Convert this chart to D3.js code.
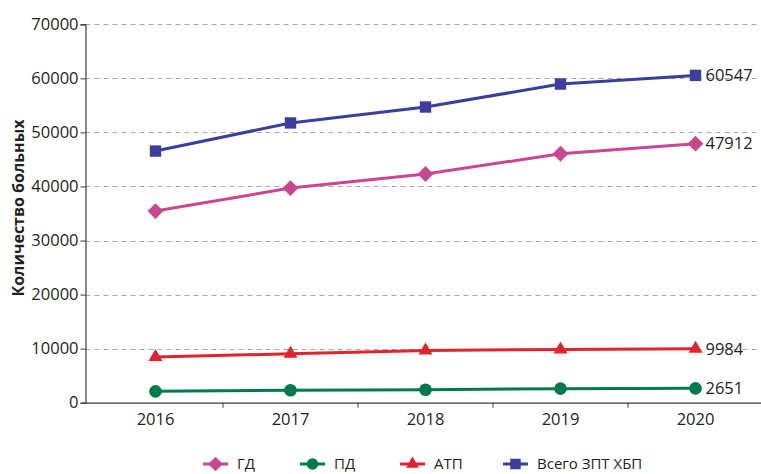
<!DOCTYPE html>
<html><head><meta charset="utf-8">
<script src="https://cdn.jsdelivr.net/npm/d3@7/dist/d3.min.js"></script>
<style>
body{margin:0;background:#fff;}
svg text{font-family:"Open Sans",sans-serif;}
</style></head>
<body><svg id="c" width="761" height="474"></svg>
<script>
const years = ["2016","2017","2018","2019","2020"];
const seriesNames = ["ГД","ПД","АТП","Всего ЗПТ ХБП"];
const gd    = [35450, 39700, 42300, 46050, 47912];
const pd    = [2100, 2300, 2400, 2600, 2651];
const atp   = [8450, 9050, 9650, 9850, 9984];
const total = [46550, 51750, 54700, 58950, 60547];
const yTicks = [0,10000,20000,30000,40000,50000,60000,70000];
const colors = ["#c8478f","#007a4b","#e0232c","#3b3e9b"];
const symbols = [d3.symbolDiamond2, d3.symbolCircle, d3.symbolTriangle2, d3.symbolSquare2];
const symSizes = [160, 125, 140, 165];

const data = [gd, pd, atp, total];
const svg = d3.select("#c");
const mLeft = 85.5, mTop = 24.3, mBottom = 402.7;

const x = d3.scaleBand().domain(years).range([88, 763]);
const y = d3.scaleLinear().domain([0,70000]).range([mBottom, mTop]);

// grid
svg.append("g").selectAll("line").data(yTicks.filter(d=>d>0)).join("line")
  .attr("x1", mLeft).attr("x2", 757)
  .attr("y1", d=>Math.round(y(d))+0.5).attr("y2", d=>Math.round(y(d))+0.5)
  .attr("stroke","#a8a8a8").attr("stroke-width",1).attr("stroke-dasharray","5,4");

// y axis
const ya = svg.append("g").attr("transform",`translate(${mLeft},0)`)
  .call(d3.axisLeft(y).tickValues(yTicks).tickSize(5).tickFormat(d3.format("d")));
ya.select(".domain").attr("stroke","#3a3a3a").attr("stroke-width",1.2);
ya.selectAll(".tick line").attr("stroke","#3a3a3a");
ya.selectAll(".tick text").attr("font-size","16.5px").attr("fill","#231f20").attr("x",-7).attr("font-family","'Open Sans',sans-serif");

// x axis
const xa = svg.append("g").attr("transform",`translate(0,${mBottom})`)
  .call(d3.axisBottom(x).tickSize(0).tickPadding(11));
xa.select(".domain").attr("stroke","#3a3a3a").attr("stroke-width",1.2).attr("d",`M${mLeft},0.5H761`);
xa.selectAll(".tick text").attr("font-size","16.5px").attr("fill","#231f20").attr("font-family","'Open Sans',sans-serif");
// boundary ticks between categories
svg.append("g").selectAll("line").data(years.slice(1)).join("line")
  .attr("x1", d=>x(d)).attr("x2", d=>x(d))
  .attr("y1", mBottom).attr("y2", mBottom+5).attr("stroke","#3a3a3a");

// y title
svg.append("text").attr("transform",`translate(24,208) rotate(-90)`)
  .attr("text-anchor","middle").attr("font-size","16px").attr("font-weight","bold")
  .attr("fill","#231f20").text("Количество больных");

const cx = d => x(d) + x.bandwidth()/2;
const line = d3.line().x((d,i)=>cx(years[i])).y(d=>y(d));

data.forEach((s,k)=>{
  const g = svg.append("g");
  g.append("path").datum(s).attr("d",line).attr("fill","none")
    .attr("stroke",colors[k]).attr("stroke-width",3);
  g.selectAll("path.m").data(s).join("path").attr("class","m")
    .attr("transform",(d,i)=>`translate(${cx(years[i])},${y(d)})`)
    .attr("d", d3.symbol().type(symbols[k]).size(symSizes[k]))
    .attr("fill",colors[k]);
  g.append("text").attr("x", cx(years[4])+10).attr("y", y(s[4])).attr("dy","0.35em")
    .attr("font-size","16.5px").attr("fill","#231f20").text(d3.format("d")(s[4]));
});

// legend
const legX = [203, 300, 400, 503];
const legY = 464;
seriesNames.forEach((n,k)=>{
  const g = svg.append("g").attr("transform",`translate(${legX[k]},${legY})`);
  g.append("line").attr("x1",0).attr("x2",25).attr("stroke",colors[k]).attr("stroke-width",3);
  g.append("path").attr("transform","translate(12.5,0)")
    .attr("d", d3.symbol().type(symbols[k]).size(symSizes[k]*0.85)).attr("fill",colors[k]);
  g.append("text").attr("x",34).attr("dy","0.35em").attr("font-size","15px")
    .attr("fill","#231f20").text(n);
});
</script></body></html>
